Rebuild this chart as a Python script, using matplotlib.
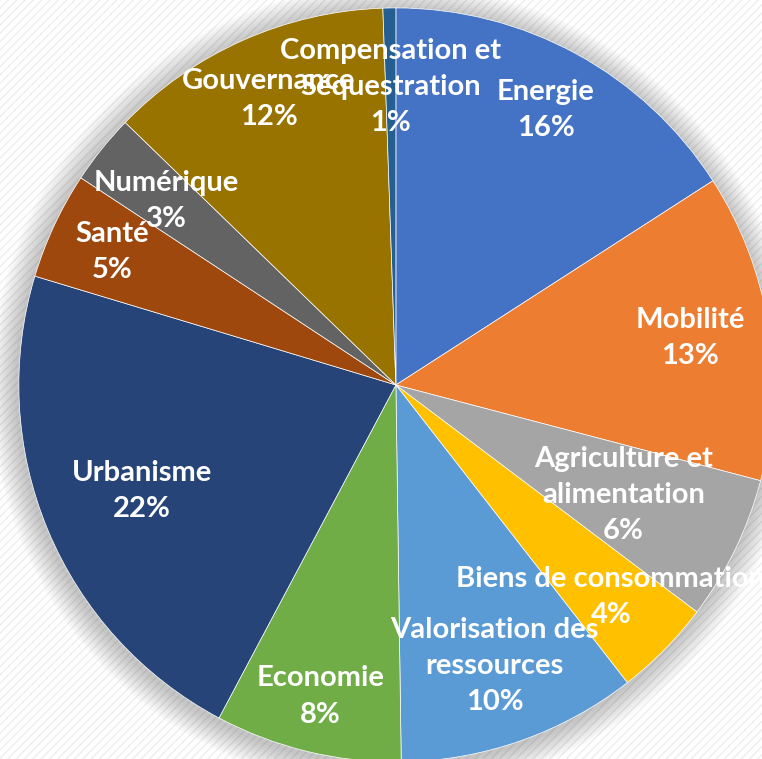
import math
import matplotlib
matplotlib.use("Agg")
import matplotlib.pyplot as plt
from matplotlib.patches import Rectangle, Circle

categories = ["Energie", "Mobilité", "Agriculture et\nalimentation", "Biens de consommation",
              "Valorisation des\nressources", "Economie", "Urbanisme", "Santé", "Numérique",
              "Gouvernance", "Compensation et\nSéquestration"]
values = [15.9, 13.2, 6.2, 4.2, 10.3, 8.0, 21.9, 4.6, 3.0, 12.2, 0.55]
colors = ["#4472C4", "#ED7D31", "#A5A5A5", "#FFC000", "#5B9BD5", "#70AD47",
          "#264478", "#9E480E", "#636363", "#997300", "#255E91"]
# radial position of each label, as fraction of the radius
label_dist = [0.83, 0.79, 0.67, 0.80, 0.79, 0.85, 0.73, 0.83, 0.78, 0.83, 0.79]

fig = plt.figure(figsize=(7.62, 7.59), dpi=100)
ax = fig.add_axes([0, 0, 1, 1])
ax.axis("off")

# faint striped background
ax.add_patch(Rectangle((0, 0), 1, 1, transform=ax.transAxes, facecolor="white",
                       edgecolor="#eeeeee", hatch="////", linewidth=0, zorder=0))

# soft shadow around the pie
for i in range(10):
    ax.add_patch(Circle((-0.004, -0.008), 1.0 + 0.007 * (i + 1), facecolor="#000000",
                        alpha=0.022, linewidth=0, zorder=1))

wedges, _ = ax.pie(values, colors=colors, startangle=90, counterclock=False, radius=1.0,
                   wedgeprops=dict(linewidth=0.5, edgecolor="white", zorder=2))

total = sum(values)
for w, name, v, d in zip(wedges, categories, values, label_dist):
    mid = math.radians((w.theta1 + w.theta2) / 2)
    pct = math.floor(v / total * 100 + 0.5)
    ax.text(d * math.cos(mid), d * math.sin(mid), f"{name}\n{pct}%",
            ha="center", va="center", color="white", fontsize=21,
            fontweight="bold", family="Lato", linespacing=1.48, zorder=5)

ax.set_aspect("equal")
ax.set_xlim(-1.050, 0.971)
ax.set_ylim(-0.992, 1.021)
fig.savefig("out.png", dpi=100)
